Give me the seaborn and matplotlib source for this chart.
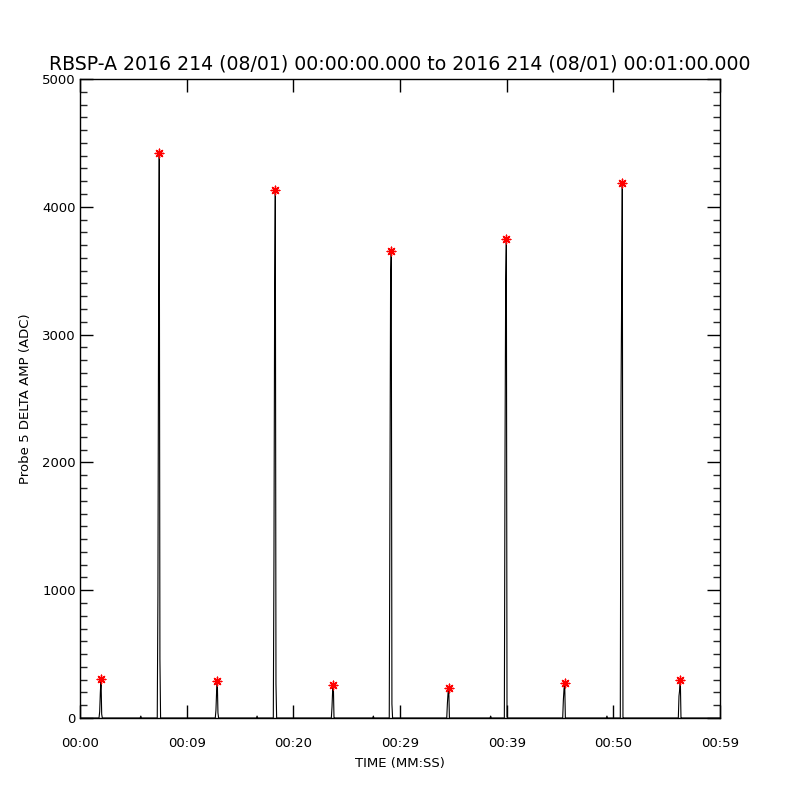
import numpy as np
import pandas as pd
import matplotlib
matplotlib.use("Agg")
import matplotlib.pyplot as plt
import seaborn as sns
from matplotlib.ticker import MultipleLocator, FixedLocator

# ---------------- data ----------------
title = "RBSP-A 2016 214 (08/01) 00:00:00.000 to 2016 214 (08/01) 00:01:00.000"
ylabel = "Probe 5 DELTA AMP (ADC)"
xlabel = "TIME (MM:SS)"

xtick_pos = [0, 10, 20, 30, 40, 50, 60]
xtick_labels = ["00:00", "00:09", "00:20", "00:29", "00:39", "00:50", "00:59"]
ytick_pos = [0, 1000, 2000, 3000, 4000, 5000]

# peak times (s) of each burst
peak_times = [1.97, 7.43, 12.87, 18.31, 23.75, 29.18, 34.57, 39.97, 45.44, 50.84, 56.28]
# consecutive samples of each burst (peak is the 4th sample)
event_values = [
    [0, 50, 200, 305, 30, 0],
    [0, 960, 3160, 4420, 460, 0],
    [0, 60, 210, 292, 40, 0],
    [0, 1284, 3345, 4130, 266, 0],
    [0, 86, 221, 262, 0, 0],
    [0, 1659, 3417, 3654, 109, 0],
    [0, 117, 200, 232, 0, 0],
    [0, 2049, 3409, 3748, 10, 0],
    [0, 140, 227, 271, 0, 0],
    [0, 2430, 3297, 4185, 0, 0],
    [0, 172, 219, 300, 0, 0],
]
peak_index = 3
sample_dt = 0.0625

# small blips near baseline
blip_times = [5.7, 16.6, 27.5, 38.5, 49.4]
blip_values = [15, 15, 15, 15, 15]

# ---------------- build series ----------------
segments = []
for t, vals in zip(peak_times, event_values):
    ts = [t + (i - peak_index) * sample_dt for i in range(len(vals))]
    segments.append((ts, vals))
for t, v in zip(blip_times, blip_values):
    segments.append(([t - sample_dt, t, t + sample_dt], [0, v, 0]))
segments.sort(key=lambda s: s[0][0])

times = [0.0]
values = [0.0]
for ts, vs in segments:
    times.extend(ts)
    values.extend(vs)
times.append(60.0)
values.append(0.0)
df = pd.DataFrame({"t": times, "v": values})

peaks = pd.DataFrame({"t": peak_times, "v": [ev[peak_index] for ev in event_values]})

# ---------------- plot ----------------
sns.set_style("ticks")
plt.rcParams["font.family"] = ["DejaVu Sans"]
plt.rcParams["text.color"] = "black"
plt.rcParams["axes.labelcolor"] = "black"

fig = plt.figure(figsize=(8, 8), dpi=100)
ax = fig.add_axes([0.1, 0.1025, 0.8, 0.79875])

sns.lineplot(data=df, x="t", y="v", ax=ax, color="black", linewidth=0.8,
             estimator=None, sort=False)
sns.scatterplot(data=peaks, x="t", y="v", ax=ax, color="red", marker=(8, 2, 0),
                s=38, linewidth=1.0, edgecolor="red", zorder=5)

ax.set_xlim(0, 60)
ax.set_ylim(0, 5000)

ax.xaxis.set_major_locator(FixedLocator(xtick_pos))
ax.set_xticklabels(xtick_labels)
ax.yaxis.set_major_locator(FixedLocator(ytick_pos))
ax.yaxis.set_minor_locator(MultipleLocator(100))

ax.tick_params(axis="both", which="major", direction="in", length=9.5, width=1,
               top=True, right=True, colors="black", labelsize=9.5)
ax.tick_params(axis="y", which="minor", direction="in", length=5, width=1,
               left=True, right=True)
ax.tick_params(axis="x", which="minor", bottom=False, top=False)
ax.tick_params(axis="x", which="major", pad=14)
ax.tick_params(axis="y", which="major", pad=3)

for sp in ax.spines.values():
    sp.set_visible(True)
    sp.set_linewidth(1)
    sp.set_color("black")

ax.set_xlabel(xlabel, fontsize=9.5, labelpad=5, color="black")
ax.set_ylabel(ylabel, fontsize=9.5, labelpad=7, color="black")
ax.set_title(title, fontsize=13.6, pad=7, color="black")

fig.savefig("out.png", dpi=100, facecolor="white")
